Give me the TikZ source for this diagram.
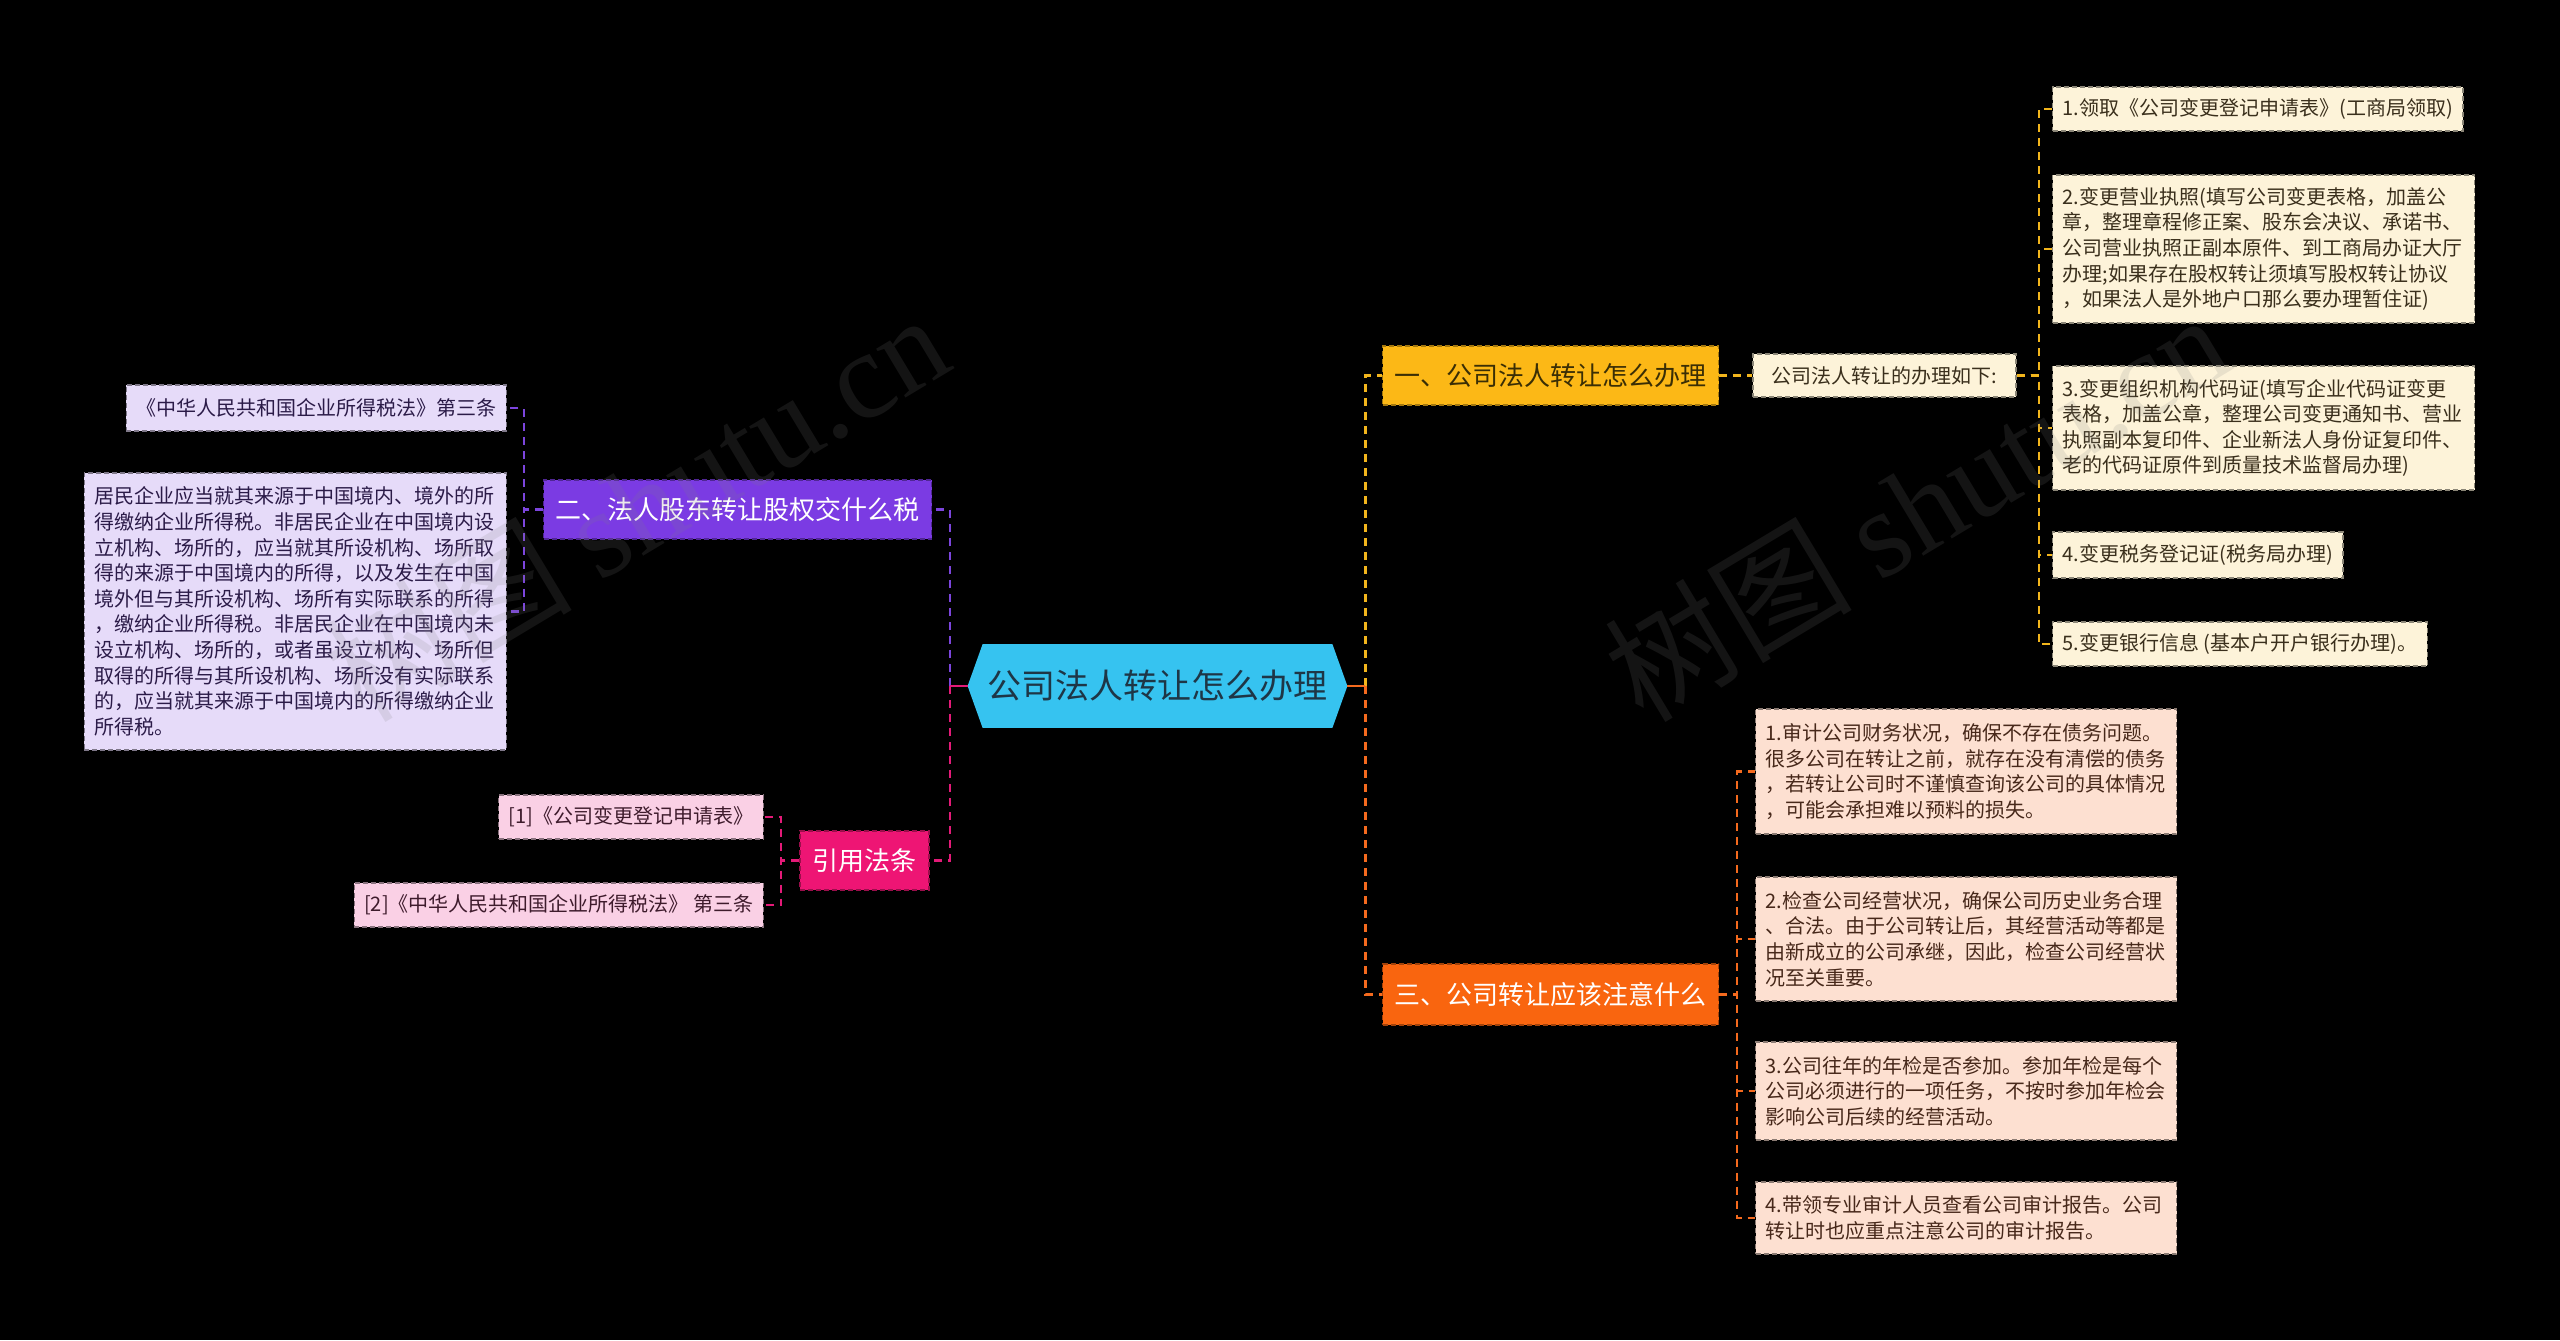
\documentclass[tikz,border=0pt]{standalone}
\usepackage{fontspec}
\setmainfont{Noto Sans CJK SC}
\newfontfamily\wmserif{Liberation Serif}
\usetikzlibrary{calc}
\pgfdeclarelayer{bg}
\pgfsetlayers{bg,main}
\definecolor{cfill}{HTML}{36C3F0}
\definecolor{ctext}{HTML}{1E3646}
\definecolor{yelfill}{HTML}{FCB816}
\definecolor{yeltext}{HTML}{3A2E05}
\definecolor{orafill}{HTML}{F9650F}
\definecolor{purfill}{HTML}{7B3BE3}
\definecolor{pinkfill}{HTML}{EE1574}
\definecolor{creamfill}{HTML}{FDF3D9}
\definecolor{creamtext}{HTML}{3A2F1C}
\definecolor{peachfill}{HTML}{FDE0D1}
\definecolor{peachtext}{HTML}{47281A}
\definecolor{lavfill}{HTML}{E6DBF9}
\definecolor{lavtext}{HTML}{2B1B48}
\definecolor{plfill}{HTML}{FAD0E5}
\definecolor{pltext}{HTML}{3E1B2C}
\definecolor{cyel}{HTML}{F2B51C}
\definecolor{cora}{HTML}{F46A1E}
\definecolor{cpur}{HTML}{7C45DD}
\definecolor{cpink}{HTML}{E41A78}
\begin{document}
\begin{tikzpicture}[x=0.5pt,y=-0.5pt,
  boxbase/.style={draw, dash pattern=on 2.5pt off 1.5pt, line width=0.7pt},
  leafbox/.style={boxbase, inner xsep=5pt, inner ysep=3pt, align=left,
    font=\fontsize{10pt}{12.8pt}\selectfont},
  creambox/.style={leafbox, fill=creamfill, draw=creamfill!55!black, text=creamtext},
  peachbox/.style={leafbox, fill=peachfill, draw=peachfill!55!black, text=peachtext},
  lavbox/.style={leafbox, fill=lavfill, draw=lavfill!55!black, text=lavtext},
  plbox/.style={leafbox, fill=plfill, draw=plfill!55!black, text=pltext},
  mainbox/.style={boxbase, minimum height=29.5pt, inner xsep=6pt, inner ysep=0pt,
    font=\fontsize{13pt}{15pt}\selectfont},
  conn/.style={line width=1.1pt, dash pattern=on 4pt off 3pt},
  wmark/.style={rotate=31, text=gray, text opacity=0.16, font=\fontsize{62pt}{62pt}\selectfont}
]
\begin{pgfonlayer}{bg}
\useasboundingbox (0,0) rectangle (2560,1340);
\fill[black] (0,0) rectangle (2560,1340);
\end{pgfonlayer}

% central node
\node[minimum width=189.5pt, minimum height=41.5pt, inner sep=0pt,
  font=\fontsize{17pt}{20pt}\selectfont, text=ctext] (c) at (1157.5,686) {公司法人转让怎么办理};
\begin{pgfonlayer}{bg}
\fill[cfill] ($(c.north west)+(15,0)$) -- ($(c.north east)+(-15,0)$) -- (c.east)
  -- ($(c.south east)+(-15,0)$) -- ($(c.south west)+(15,0)$) -- (c.west) -- cycle;
\end{pgfonlayer}

% main branches
\node[mainbox, fill=yelfill, draw=yelfill!65!black, text=yeltext, minimum width=167.5pt] (n1) at (1550.5,375.5) {一、公司法人转让怎么办理};
\node[mainbox, fill=orafill, draw=orafill!65!black, text=white, minimum width=168pt, minimum height=30.5pt] (n3) at (1550.5,994.5) {三、公司转让应该注意什么};
\node[mainbox, fill=purfill, draw=purfill!65!black, text=white, minimum width=193.5pt] (n2) at (737.5,509.5) {二、法人股东转让股权交什么税};
\node[mainbox, fill=pinkfill, draw=pinkfill!65!black, text=white, minimum width=64.5pt] (n4) at (864.5,860.5) {引用法条};

% branch one children
\node[creambox, minimum width=131.5pt, minimum height=21.5pt] (n1a) at (1884.5,375.5) {公司法人转让的办理如下:};
\node[creambox, anchor=west, minimum height=22pt] (r1) at (2052,109) {1.领取《公司变更登记申请表》(工商局领取)};
\node[creambox, anchor=west, text width=201pt, minimum height=74pt] (r2) at (2052,249) {2.变更营业执照(填写公司变更表格，加盖公\\章，整理章程修正案、股东会决议、承诺书、\\公司营业执照正副本原件、到工商局办证大厅\\办理;如果存在股权转让须填写股权转让协议\\，如果法人是外地户口那么要办理暂住证)};
\node[creambox, anchor=west, text width=201pt, minimum height=62pt] (r3) at (2052,428) {3.变更组织机构代码证(填写企业代码证变更\\表格，加盖公章，整理公司变更通知书、营业\\执照副本复印件、企业新法人身份证复印件、\\老的代码证原件到质量技术监督局办理)};
\node[creambox, anchor=west, minimum height=23pt] (r4) at (2052,555) {4.变更税务登记证(税务局办理)};
\node[creambox, anchor=west, minimum height=22pt] (r5) at (2052,644) {5.变更银行信息 (基本户开户银行办理)。};

% branch three children
\node[peachbox, anchor=west, text width=200.5pt, minimum height=62.5pt] (s1) at (1755,771.5) {1.审计公司财务状况，确保不存在债务问题。\\很多公司在转让之前，就存在没有清偿的债务\\，若转让公司时不谨慎查询该公司的具体情况\\，可能会承担难以预料的损失。};
\node[peachbox, anchor=west, text width=200.5pt, minimum height=62pt] (s2) at (1755,939) {2.检查公司经营状况，确保公司历史业务合理\\、合法。由于公司转让后，其经营活动等都是\\由新成立的公司承继，因此，检查公司经营状\\况至关重要。};
\node[peachbox, anchor=west, text width=200.5pt, minimum height=49pt] (s3) at (1755,1091) {3.公司往年的年检是否参加。参加年检是每个\\公司必须进行的一项任务，不按时参加年检会\\影响公司后续的经营活动。};
\node[peachbox, anchor=west, text width=200.5pt, minimum height=36pt] (s4) at (1755,1218) {4.带领专业审计人员查看公司审计报告。公司\\转让时也应重点注意公司的审计报告。};

% branch two children
\node[lavbox, anchor=east, minimum height=23pt] (l1) at (507,408) {《中华人民共和国企业所得税法》第三条};
\node[lavbox, anchor=east, text width=201pt, minimum height=138.5pt] (l2) at (507,611.5) {居民企业应当就其来源于中国境内、境外的所\\得缴纳企业所得税。非居民企业在中国境内设\\立机构、场所的，应当就其所设机构、场所取\\得的来源于中国境内的所得，以及发生在中国\\境外但与其所设机构、场所有实际联系的所得\\，缴纳企业所得税。非居民企业在中国境内未\\设立机构、场所的，或者虽设立机构、场所但\\取得的所得与其所设机构、场所没有实际联系\\的，应当就其来源于中国境内的所得缴纳企业\\所得税。};

% citation children
\node[plbox, anchor=east, minimum height=22pt] (p1) at (764,817) {[1]《公司变更登记申请表》};
\node[plbox, anchor=east, minimum height=22pt] (p2) at (764,905) {[2]《中华人民共和国企业所得税法》 第三条};

% junction coordinates
\coordinate (cr) at ($(c.east)+(18,0)$);
\coordinate (cl) at ($(c.west)+(-18,0)$);
\coordinate (j1) at ($(n1a.east)+(22,0)$);
\coordinate (j3) at ($(n3.east)+(18,0)$);
\coordinate (j2) at ($(n2.west)+(-19,0)$);
\coordinate (j4) at ($(n4.west)+(-18,0)$);

% connectors from center
\draw[conn, cyel] (cr) |- (n1.west);
\draw[conn, cora] (cr) |- (n3.west);
\draw[line width=1.1pt, cora] (c.east) -- (cr);
\draw[conn, cpur] (cl) |- (n2.east);
\draw[conn, cpink] (cl) |- (n4.east);
\draw[line width=1.1pt, cpink] (c.west) -- (cl);

% branch one
\draw[conn, cyel] (n1.east) -- (n1a.west);
\foreach \t in {r1,r2,r3,r4,r5}
  \draw[conn, cyel] (n1a.east) -- (j1) |- (\t.west);
% branch three
\foreach \t in {s1,s2,s3,s4}
  \draw[conn, cora] (n3.east) -- (j3) |- (\t.west);
% branch two
\foreach \t in {l1,l2}
  \draw[conn, cpur] (n2.west) -- (j2) |- (\t.east);
% citations
\foreach \t in {p1,p2}
  \draw[conn, cpink] (n4.west) -- (j4) |- (\t.east);

% watermarks
\node[wmark] (wm1) at (636,506) {树图 {\wmserif shutu.cn}};
\node[wmark] (wm2) at (1916,506) {树图 {\wmserif shutu.cn}};
\end{tikzpicture}
\end{document}
